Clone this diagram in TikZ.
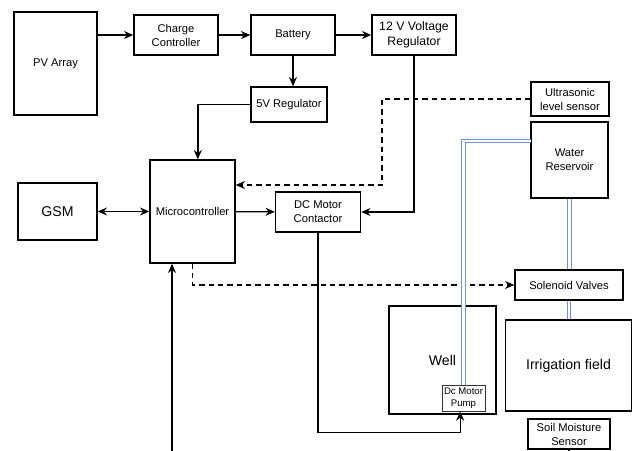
\documentclass[tikz,border=0pt]{standalone}
\usepackage{fontspec}
\setmainfont{Liberation Sans}
\usepackage{xcolor}
\usepackage{tikz}
\usetikzlibrary{arrows.meta,calc}
\definecolor{PIPEblue}{RGB}{110,145,210}
\tikzstyle{blk}   = [rectangle, draw, line width=1pt, inner sep=0pt,
                     align=center, font=\fontsize{8.4}{10.5}\selectfont]
\tikzstyle{Bsmall}= [blk, minimum width=63pt, minimum height=30pt]
\tikzstyle{Bbig}  = [blk, font=\fontsize{10.6}{13}\selectfont]
\tikzstyle{Bpump} = [blk, line width=0.6pt, draw=black!80,
                     minimum width=32.25pt, minimum height=19.5pt,
                     font=\fontsize{7.2}{8.6}\selectfont]
\tikzstyle{pipe}  = [draw=PIPEblue, line width=0.9pt, double=white,
                     double distance=1.6pt]
\tikzstyle{sig}   = [line width=1pt, dash pattern=on 4pt off 3pt]

\begin{document}
\begin{tikzpicture}[x=0.75pt, y=-0.75pt, line width=1pt,
                    >={Stealth[length=7pt,width=6pt]}]
  \useasboundingbox (0,0) rectangle (632,450);
  % power chain
  \node[blk, minimum width=62.25pt, minimum height=77.25pt] (pv) at (55.5,63.5) {PV Array};
  \node[Bsmall] (cc)    at (176,35)  {Charge\\Controller};
  \node[Bsmall] (bat)   at (293,35)  {Battery};
  \node[Bsmall, font=\fontsize{9.2}{11.5}\selectfont] (reg12) at (414,35) {12 V Voltage\\Regulator};
  \node[blk, minimum width=57pt, minimum height=26.25pt] (reg5) at (289,104.5) {5V Regulator};
  % control
  \node[blk, minimum width=63.75pt, minimum height=77.25pt] (mcu) at (192.5,211.5) {Microcontroller};
  \node[Bbig, minimum width=59.25pt, minimum height=42.75pt] (gsm) at (57.5,211.5) {GSM};
  \node[blk, minimum width=63.75pt, minimum height=30pt] (dcm) at (318,212) {DC Motor\\Contactor};
  % water side
  \node[blk, minimum width=58.5pt, minimum height=25.5pt] (us)  at (570,99)    {Ultrasonic\\level sensor};
  \node[blk, minimum width=57.75pt, minimum height=57pt]  (res) at (569.5,160) {Water\\Reservoir};
  \node[blk, minimum width=81pt, minimum height=22.5pt]   (sol) at (569,285)   {Solenoid Valves};
  \node[Bbig, minimum width=80.25pt, minimum height=81pt] (well) at (442.5,360) {Well};
  \node[Bpump] (pump) at (463.5,398) {Dc Motor\\Pump};
  \node[Bbig, minimum width=94.5pt, minimum height=68.25pt] (irr) at (568.5,365.5) {Irrigation field};
  \node[blk, minimum width=61.5pt, minimum height=22.5pt] (soil) at (569,434) {Soil Moisture\\Sensor};

  \coordinate (usbend) at (382,185);
  \coordinate (pipein) at (531,141);
  \coordinate (soilin) at (172,452);

  \draw[->] (pv.east |- cc.west) -- (cc.west);
  \draw[->] (cc) -- (bat);
  \draw[->] (bat) -- (reg12);
  \draw[->] (bat.south) -- (bat.south |- reg5.north);
  \draw[->] (reg5.west) -| ([xshift=4pt]mcu.north);
  \draw[->] (reg12.south) |- (dcm.east);
  \draw[<->] (gsm) -- (mcu);
  \draw[->] (mcu) -- (dcm);
  \draw[->] (dcm.south) -- ++(0,200) -| ([xshift=-2.5pt]pump.south);
  \draw[->] (soilin) -- (soilin |- mcu.south);
  \draw (soil.south) -- ++(0,6);
  \draw[sig,->] (us.west) -| (usbend) -- (usbend -| mcu.east);
  \draw[sig,->] (mcu.south) |- (sol.west);
  % pipes
  \draw[pipe] (pipein) -| (pump.north);
  \draw[pipe] (res.south) -- (res.south |- sol.north);
  \draw[pipe] (sol.south) -- (sol.south |- irr.north);
\end{tikzpicture}
\end{document}
